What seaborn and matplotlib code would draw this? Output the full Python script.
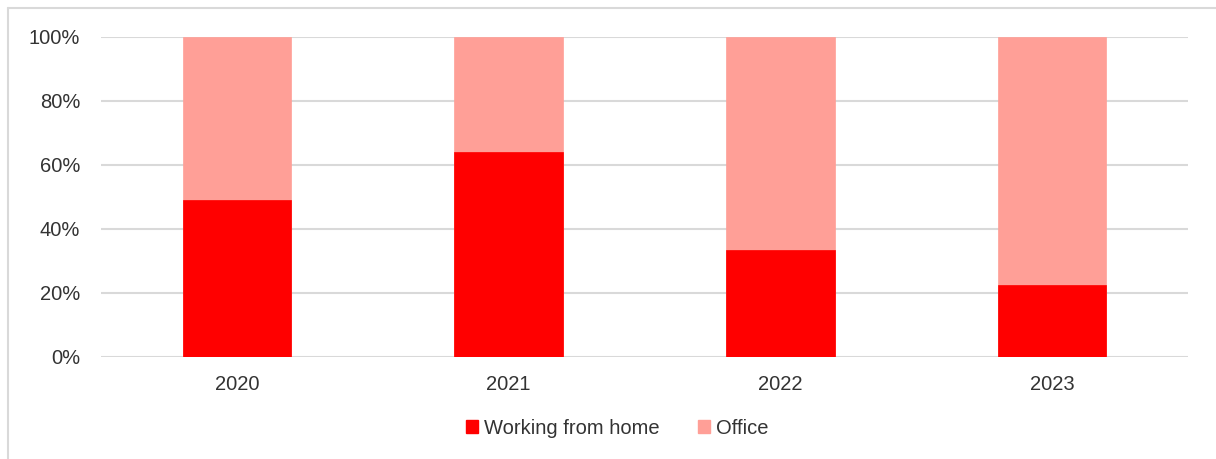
import matplotlib
matplotlib.use("Agg")
import matplotlib.pyplot as plt
import seaborn as sns
import pandas as pd
from matplotlib.patches import Patch
from matplotlib.lines import Line2D
from matplotlib.ticker import PercentFormatter

years = ["2020", "2021", "2022", "2023"]
wfh = [49, 64, 33.5, 22.5]
office = [100 - v for v in wfh]
totals = [w + o for w, o in zip(wfh, office)]

sns.set_theme(style="white")
plt.rcParams['font.family'] = ['Liberation Sans', 'DejaVu Sans']

RED = "#ff0000"
PINK = "#ff9f97"
TXT = "#333333"
GRID = "#d9d9d9"
FS = 14.5

fig = plt.figure(figsize=(12.16, 4.59), dpi=100)
ax = fig.add_axes([101/1216, 1 - 357/459, (1188 - 101)/1216, (357 - 37)/459])

df = pd.DataFrame({"year": years, "wfh": wfh, "total": totals})
sns.barplot(data=df, x="year", y="total", color=PINK, width=0.4, ax=ax,
            saturation=1, zorder=3, edgecolor=PINK, linewidth=0.5)
sns.barplot(data=df, x="year", y="wfh", color=RED, width=0.4, ax=ax,
            saturation=1, zorder=4, edgecolor=RED, linewidth=0.5)

ax.set_ylim(0, 100)
ax.set_xlim(-0.5, 3.5)
ax.set_yticks(range(0, 101, 20))
ax.yaxis.set_major_formatter(PercentFormatter(decimals=0))
ax.grid(axis="y", color=GRID, linewidth=1.5, zorder=0)
ax.set_axisbelow(True)
for s in ax.spines.values():
    s.set_visible(False)
ax.set_xlabel("")
ax.set_ylabel("")
ax.tick_params(axis="both", length=0, labelsize=FS, colors=TXT)
ax.tick_params(axis="y", pad=15)
ax.tick_params(axis="x", pad=13)

handles = [Patch(facecolor=RED, edgecolor=RED, label="Working from home"),
           Patch(facecolor=PINK, edgecolor=PINK, label="Office")]
fig.legend(handles=handles, loc="center", bbox_to_anchor=(617/1216, 1 - 428/459),
           ncol=2, frameon=False, fontsize=FS, handlelength=0.6, handleheight=0.6,
           handletextpad=0.3, columnspacing=1.9, labelcolor=TXT)

# figure frame: only top and left edges visible
fig.add_artist(Line2D([8/1216, 1.0], [1 - 8/459, 1 - 8/459], transform=fig.transFigure,
                      color=GRID, linewidth=1.5))
fig.add_artist(Line2D([8/1216, 8/1216], [1 - 8/459, 0.0], transform=fig.transFigure,
                      color=GRID, linewidth=1.5))

fig.savefig("out.png", dpi=100)
